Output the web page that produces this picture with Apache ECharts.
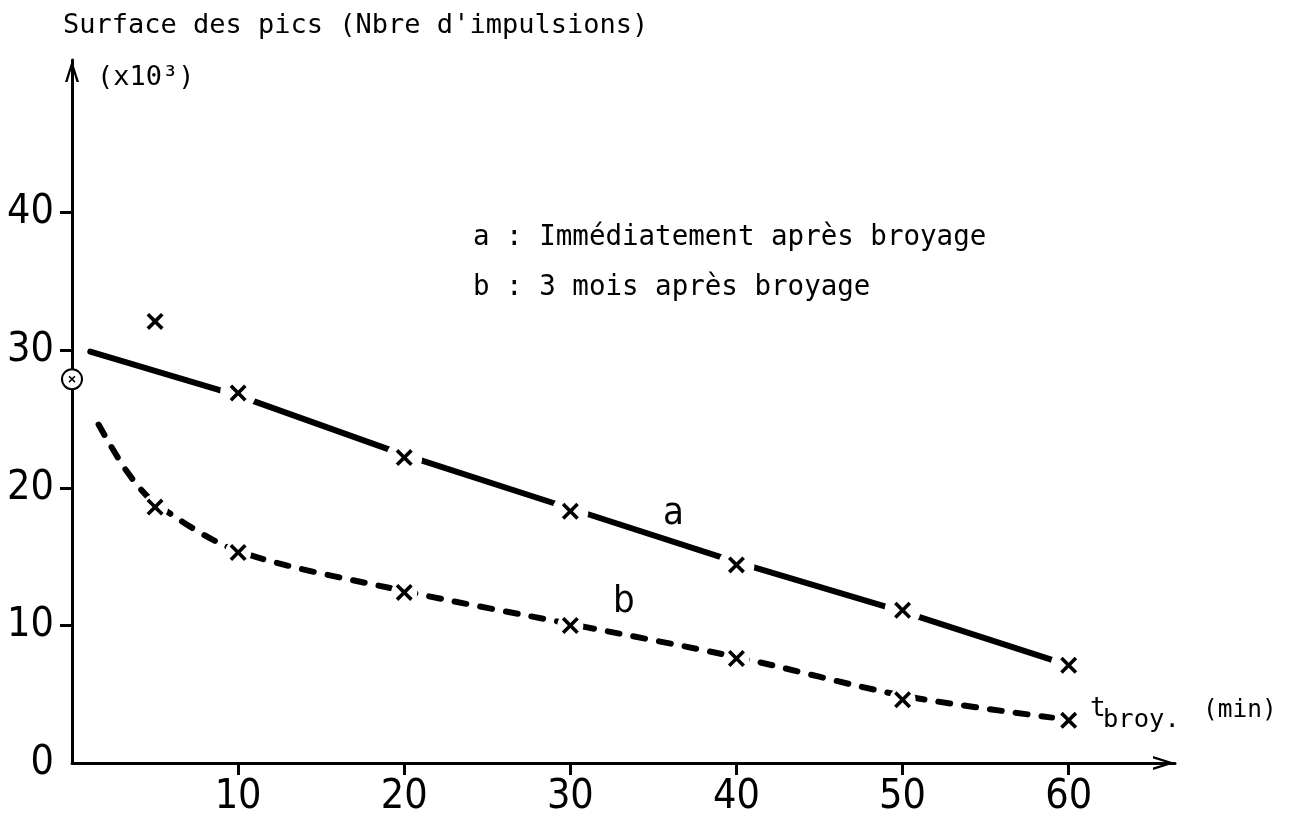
<!DOCTYPE html>
<html>
<head>
<meta charset="utf-8">
<script src="https://cdn.jsdelivr.net/npm/echarts@6/dist/echarts.min.js"></script>
<style>
	html, body {margin: 0; background: #fff;}
	#chart {width: 1294px; height: 819px;}
</style>
</head>
<body>
<div id="chart"></div>
<script>
// tick labels
const xTickValues = [10, 20, 30, 40, 50, 60];
const yLabelValues = [0, 10, 20, 30, 40];
const yTickValues = [10, 20, 30, 40];

// measured points (x = t broyage in min, y = peak surface x10^3)
const pointsA = [[5, 32.1], [10, 26.9], [20, 22.2], [30, 18.3], [40, 14.4], [50, 11.1], [60, 7.1]];
const pointsB = [[5, 18.6], [10, 15.3], [20, 12.4], [30, 10.0], [40, 7.6], [50, 4.6], [60, 3.1]];
const circledPoint = [[0, 27.9]];

// hand drawn curves
const curveA = [[1.1, 29.9], [10, 26.7], [20, 22.4], [30, 18.5], [40, 14.6], [50, 11.0], [59, 7.5]];
const curveB = [[1.6, 24.6], [3.3, 21.2], [5, 18.9], [10, 15.4], [20, 12.5], [30, 10.1], [40, 7.7], [50, 4.9], [59, 3.3]];

const tickFont = '"Liberation Sans Narrow", "DejaVu Sans Condensed", sans-serif';
const monoFont = '"DejaVu Sans Mono", "Liberation Mono", monospace';
const arrowPath = 'path://M7,0 L14,22 L11.5,22 L7,7 L2.5,22 L0,22 Z';
const crossPath = 'path://M0,3 L3,0 L10,7 L17,0 L20,3 L13,10 L20,17 L17,20 L10,13 L3,20 L0,17 L7,10 Z';

const chart = echarts.init(document.getElementById('chart'));

const axisLine = {
	show: true,
	onZero: false,
	symbol: ['none', arrowPath],
	symbolSize: [14, 22],
	symbolOffset: [0, -11],
	lineStyle: {color: '#000', width: 3}
};

// white disc under a cross, so the drawn line stops short of it
const halo = (data, size) => ({
	type: 'scatter',
	data: data,
	symbol: 'circle',
	symbolSize: size,
	z: 3,
	silent: true,
	itemStyle: {color: '#fff', opacity: 1}
});

chart.setOption({
	backgroundColor: '#fff',
	animation: false,
	grid: {left: 72, right: 119, top: 60, bottom: 56},
	xAxis: {
		type: 'value',
		min: 0,
		max: 66.4,
		interval: 10,
		splitLine: {show: false},
		axisLine: axisLine,
		axisTick: {show: true, customValues: xTickValues, length: 12, lineStyle: {color: '#000', width: 3}},
		axisLabel: {customValues: xTickValues, fontFamily: tickFont, fontSize: 41, color: '#000', margin: 14}
	},
	yAxis: {
		type: 'value',
		min: 0,
		max: 51.1,
		interval: 10,
		splitLine: {show: false},
		axisLine: axisLine,
		axisTick: {show: true, customValues: yTickValues, length: 12, lineStyle: {color: '#000', width: 3}},
		axisLabel: {customValues: yLabelValues, fontFamily: tickFont, fontSize: 41, color: '#000', margin: 18}
	},
	series: [
		{
			type: 'line',
			data: curveA,
			symbol: 'none',
			z: 2,
			lineStyle: {color: '#000', width: 6, cap: 'round'}
		},
		{
			type: 'line',
			data: curveB,
			symbol: 'none',
			smooth: 0.3,
			z: 2,
			lineStyle: {color: '#000', width: 6, type: [12, 14], cap: 'round'}
		},
		halo(pointsA, 36),
		halo(pointsB, 26),
		{
			type: 'scatter',
			data: pointsA.concat(pointsB),
			symbol: crossPath,
			symbolSize: 17,
			z: 4,
			itemStyle: {color: '#000', opacity: 1}
		},
		{
			type: 'scatter',
			data: circledPoint,
			symbol: 'emptyCircle',
			symbolSize: 20,
			z: 4,
			itemStyle: {color: '#000', borderWidth: 3.5, opacity: 1}
		},
		{
			type: 'scatter',
			data: circledPoint,
			symbol: crossPath,
			symbolSize: 7,
			z: 5,
			itemStyle: {color: '#000', opacity: 1}
		}
	],
	graphic: [
		{type: 'text', left: 63, top: 12, style: {text: "Surface des pics (Nbre d'impulsions)", font: '27px ' + monoFont, fill: '#000'}},
		{type: 'text', left: 97, top: 64, style: {text: '(x10³)', font: '27px ' + monoFont, fill: '#000'}},
		{type: 'text', left: 473, top: 224, style: {text: 'a : Immédiatement après broyage', font: '27.5px ' + monoFont, fill: '#000'}},
		{type: 'text', left: 473, top: 274, style: {text: 'b : 3 mois après broyage', font: '27.5px ' + monoFont, fill: '#000'}},
		{type: 'text', left: 663, top: 495, style: {text: 'a', font: '38px ' + tickFont, fill: '#000'}},
		{type: 'text', left: 613, top: 583, style: {text: 'b', font: '38px ' + tickFont, fill: '#000'}},
		{type: 'text', left: 1090, top: 696, style: {text: 't', font: '26px ' + monoFont, fill: '#000'}},
		{type: 'text', left: 1103, top: 707, style: {text: 'broy.', font: '25.5px ' + monoFont, fill: '#000'}},
		{type: 'text', left: 1203, top: 698, style: {text: '(min)', font: '24.5px ' + monoFont, fill: '#000'}}
	]
});
</script>
</body>
</html>
